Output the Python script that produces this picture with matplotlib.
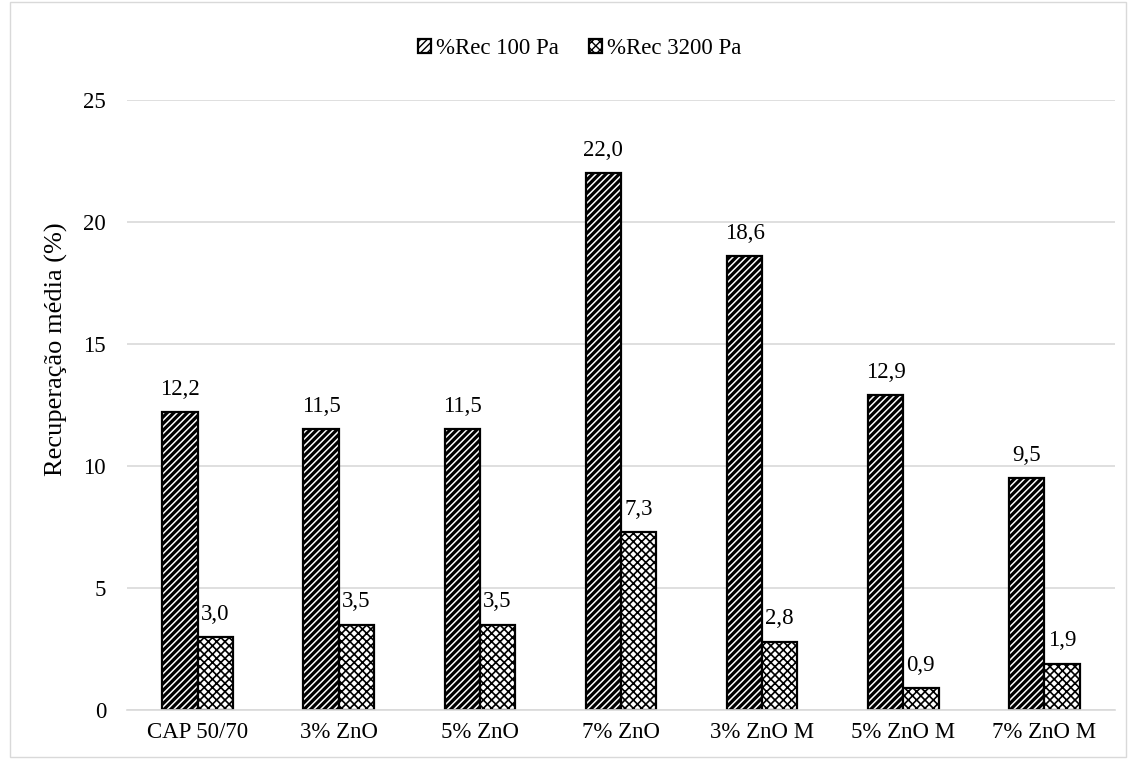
import matplotlib
matplotlib.use("Agg")
import matplotlib.pyplot as plt
import numpy as np
from matplotlib.patches import Rectangle

categories = ["CAP 50/70", "3% ZnO", "5% ZnO", "7% ZnO", "3% ZnO M", "5% ZnO M", "7% ZnO M"]
rec_100 = [12.2, 11.5, 11.5, 22.0, 18.6, 12.9, 9.5]
rec_3200 = [3.0, 3.5, 3.5, 7.3, 2.8, 0.9, 1.9]
series_names = ["%Rec 100 Pa", "%Rec 3200 Pa"]
yticks = [0, 5, 10, 15, 20, 25]

plt.rcParams['font.family'] = ['Liberation Serif', 'DejaVu Serif']
FS = 16.5

fig = plt.figure(figsize=(11.3, 7.6), dpi=100)
L, R, T, B = 127, 1115, 100, 710
ax = fig.add_axes([L/1130, (760-B)/760, (R-L)/1130, (B-T)/760])

x = np.arange(len(categories))
w = 0.25
b1 = ax.bar(x - w/2, rec_100, w, color='white', edgecolor='black', linewidth=1.6, hatch='/////', label=series_names[0])
b2 = ax.bar(x + w/2, rec_3200, w, color='white', edgecolor='black', linewidth=1.6, hatch='xxxx', label=series_names[1])
for p in b1:
    try:
        p.set_hatch_linewidth(2.3)
    except Exception:
        pass
for p in b2:
    try:
        p.set_hatch_linewidth(1.2)
    except Exception:
        pass

for xi, v in zip(x - w/2, rec_100):
    ax.text(xi, v + 0.5, f"{v:.1f}".replace('.', ','), ha='center', va='bottom', fontsize=FS)
for xi, v in zip(x + w/2, rec_3200):
    ax.text(xi, v + 0.5, f"{v:.1f}".replace('.', ','), ha='center', va='bottom', fontsize=FS)

ax.set_xlim(-0.5, len(categories) - 0.5)
ax.set_ylim(0, 25)
ax.set_yticks(yticks)
ax.set_xticks(x)
ax.set_xticklabels(categories)
ax.tick_params(axis='both', length=0, labelsize=FS)
ax.tick_params(axis='y', pad=15)
ax.tick_params(axis='x', pad=9)
ax.yaxis.grid(True, color='#d9d9d9', linewidth=1.2)
ax.set_axisbelow(True)
for s in ['top', 'right', 'left']:
    ax.spines[s].set_visible(False)
ax.spines['bottom'].set_color('#d9d9d9')
ax.spines['bottom'].set_linewidth(1.2)
ax.set_ylabel("Recuperação média (%)", fontsize=19)
ax.yaxis.set_label_coords((68 - L) / (R - L), (B - 349) / (B - T))

leg = ax.legend(loc='center', bbox_to_anchor=((580 - L) / (R - L), (B - 49) / (B - T)), ncol=2, frameon=False,
                handlelength=0.55, handleheight=0.55, handletextpad=0.25, columnspacing=1.3, fontsize=FS,
                borderpad=0, borderaxespad=0)

fig.patches.append(Rectangle((10/1130, 3/760), 1116/1130, 755/760, transform=fig.transFigure,
                             fill=False, edgecolor='#d9d9d9', linewidth=1))

fig.savefig("out.png", dpi=100)
